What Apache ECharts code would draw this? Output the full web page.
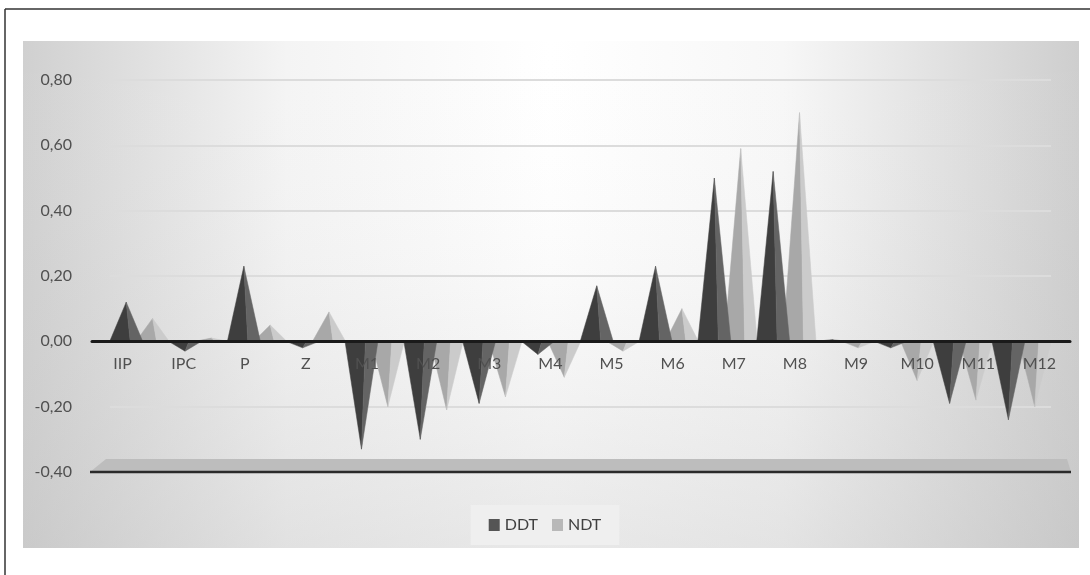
<!DOCTYPE html>
<html>
<head>
<meta charset="utf-8">
<script src="https://cdn.jsdelivr.net/npm/echarts@6/dist/echarts.min.js"></script>
<style>
  html, body { margin: 0; padding: 0; background: #ffffff; }
  #chart { width: 1090px; height: 575px; }
</style>
</head>
<body>
<div id="chart"></div>
<script>
// Category labels along the horizontal axis
const categories = ['IIP', 'IPC', 'P', 'Z', 'M1', 'M2', 'M3', 'M4', 'M5', 'M6', 'M7', 'M8', 'M9', 'M10', 'M11', 'M12'];
// Series values
const ddt = [0.12, -0.03, 0.23, -0.02, -0.33, -0.30, -0.19, -0.04, 0.17, 0.23, 0.50, 0.52, 0.005, -0.02, -0.19, -0.24];
const ndt = [0.07, 0.01, 0.05, 0.09, -0.20, -0.21, -0.17, -0.11, -0.03, 0.10, 0.59, 0.70, -0.02, -0.12, -0.18, -0.20];
// Value axis range and step
const yMin = -0.4, yMax = 0.8, yStep = 0.2;

const DARK = ['#3e3e3e', '#646464', '#555555'];
const LIGHT = ['#a8a8a8', '#cbcbcb', '#b8b8b8'];
const FONT = 'Lato';

// Plot area: top and bottom offsets shared by all grids
const PLOT_TOP = 80, PLOT_BOTTOM = 103, CHART_H = 575;
const zeroY = PLOT_TOP + (CHART_H - PLOT_TOP - PLOT_BOTTOM) * (yMax / (yMax - yMin));

function fmt(v) { return v.toFixed(2).replace('.', ','); }

// Draws one pyramid: two faces meeting at the apex
function pyramid(shift, shades) {
  return function (params, api) {
    const idx = api.value(0);
    const val = api.value(1);
    const base = api.coord([idx, 0]);
    const top = api.coord([idx, val]);
    const w = api.size([1, 0])[0] * 0.56;
    const cx = base[0] + shift * w;
    const y0 = base[1], y1 = top[1];
    const mid = cx + w * 0.12;
    return {
      type: 'group',
      children: [
        { type: 'polygon', shape: { points: [[cx - w / 2, y0], [cx, y1], [mid, y0]] },
          style: { fill: shades[0], stroke: shades[0], lineWidth: 0.5 } },
        { type: 'polygon', shape: { points: [[mid, y0], [cx, y1], [cx + w / 2, y0]] },
          style: { fill: shades[1], stroke: shades[1], lineWidth: 0.5 } }
      ]
    };
  };
}

// Floor slab and its front edge at the bottom of the value range
function floor(params, api) {
  const cs = params.coordSys;
  const yb = api.coord([0, yMin])[1];
  return {
    type: 'group',
    children: [
      { type: 'polygon', shape: { points: [[cs.x - 2, yb], [cs.x + 14, yb - 13], [cs.x + cs.width + 2, yb - 13], [cs.x + cs.width + 6, yb]] },
        style: { fill: '#bdbdbd' } },
      { type: 'line', shape: { x1: cs.x - 2, y1: yb, x2: cs.x + cs.width + 6, y2: yb },
        style: { stroke: '#2a2a2a', lineWidth: 2.5 } }
    ]
  };
}

const chart = echarts.init(document.getElementById('chart'), null, { renderer: 'canvas' });
chart.setOption({
  animation: false,
  backgroundColor: '#ffffff',
  graphic: [
    { type: 'rect', z: -10, shape: { x: 23, y: 41, width: 1056, height: 507 },
      style: { fill: new echarts.graphic.LinearGradient(0, 0, 1, 0, [
        { offset: 0, color: '#d0d0d0' },
        { offset: 0.25, color: '#f4f4f4' },
        { offset: 0.5, color: '#ffffff' },
        { offset: 0.72, color: '#f7f7f7' },
        { offset: 1, color: '#cecece' }
      ]) } },
    { type: 'rect', z: -9, shape: { x: 23, y: 41, width: 1056, height: 507 },
      style: { fill: new echarts.graphic.LinearGradient(0, 0, 0, 1, [
        { offset: 0, color: 'rgba(255,255,255,0)' },
        { offset: 0.45, color: 'rgba(200,200,200,0.08)' },
        { offset: 1, color: 'rgba(190,190,190,0.35)' }
      ]) } },
    { type: 'line', z: 10, shape: { x1: 5, y1: 9, x2: 1090, y2: 9 }, style: { stroke: '#333', lineWidth: 1.5 } },
    { type: 'line', z: 10, shape: { x1: 5, y1: 9, x2: 5, y2: 575 }, style: { stroke: '#333', lineWidth: 1.5 } }
  ],
  legend: {
    data: ['DDT', 'NDT'],
    left: 'center',
    top: 505,
    backgroundColor: '#efefef',
    padding: [12, 18],
    itemWidth: 11,
    itemHeight: 12,
    itemGap: 14,
    icon: 'rect',
    textStyle: { fontFamily: FONT, fontSize: 16, color: '#404040' }
  },
  grid: [
    { left: 92, right: 25, top: PLOT_TOP, bottom: PLOT_BOTTOM },
    { left: 110, right: 39, top: PLOT_TOP, bottom: PLOT_BOTTOM },
    // Strip ending at the zero level, carrying the category labels
    { left: 92, right: 20, top: PLOT_TOP, bottom: CHART_H - zeroY }
  ],
  xAxis: [
    { type: 'category', gridIndex: 0, data: categories, show: false },
    { type: 'category', gridIndex: 1, data: categories, show: false },
    { type: 'category', gridIndex: 2, data: categories, position: 'bottom',
      axisLine: { onZero: false, lineStyle: { color: '#1a1a1a', width: 3 } },
      axisTick: { show: false },
      axisLabel: { margin: 15, fontFamily: FONT, fontSize: 16, color: '#505050' },
      z: 5 }
  ],
  yAxis: [
    { type: 'value', gridIndex: 0, min: yMin, max: yMax, interval: yStep,
      axisLine: { show: false }, axisTick: { show: false },
      splitLine: { show: false },
      axisLabel: { margin: 20, fontFamily: FONT, fontSize: 16, color: '#505050', formatter: fmt } },
    { type: 'value', gridIndex: 1, min: yMin, max: yMax, interval: yStep,
      axisLine: { show: false }, axisTick: { show: false }, axisLabel: { show: false },
      splitLine: { show: true, lineStyle: { color: '#dcdcdc', width: 2 } } },
    { type: 'value', gridIndex: 2, min: 0, max: 1, show: false }
  ],
  series: [
    { type: 'custom', name: 'floor', xAxisIndex: 0, yAxisIndex: 0, data: [[0, yMin]],
      renderItem: floor, silent: true, z: 1, tooltip: { show: false } },
    { type: 'custom', name: 'DDT', xAxisIndex: 1, yAxisIndex: 1,
      itemStyle: { color: DARK[2] },
      data: ddt.map((v, i) => [i, v]), renderItem: pyramid(-0.4, DARK), z: 3 },
    { type: 'custom', name: 'NDT', xAxisIndex: 1, yAxisIndex: 1,
      itemStyle: { color: LIGHT[2] },
      data: ndt.map((v, i) => [i, v]), renderItem: pyramid(0.4, LIGHT), z: 2 }
  ]
});
</script>
</body>
</html>
